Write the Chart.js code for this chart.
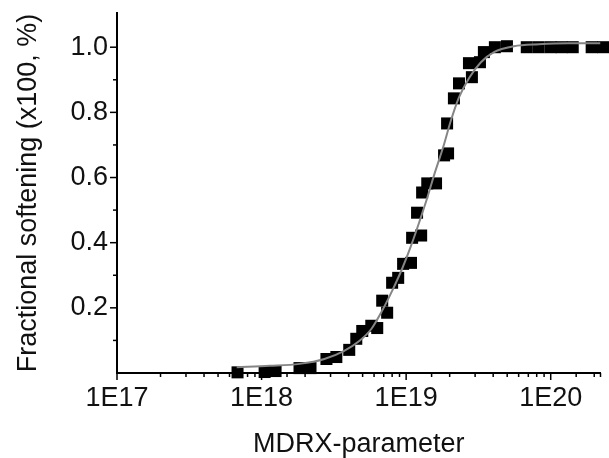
<!DOCTYPE html>
<html lang="en">
<head>
    <meta charset="UTF-8">
    <title>MDRX fractional softening</title>
    <script src="https://cdn.jsdelivr.net/npm/chart.js"></script>
    <style>
        body {
            margin: 0;
            background-color: #fff;
        }

        #chartBox {
            width: 609px;
            height: 458px;
        }
    </style>
</head>
<body>

    <div id="chartBox">
        <canvas id="myChart" width="609" height="458"></canvas>
    </div>

    <script>
        // measured points
        const mdrxParam = [6.82e17, 1.05e18, 1.25e18, 1.83e18, 2.18e18, 2.81e18, 3.29e18, 4.04e18, 4.52e18, 4.97e18,
            5.74e18, 6.31e18, 6.83e18, 7.39e18, 8.00e18, 8.81e18, 9.53e18, 1.08e19, 1.10e19, 1.27e19,
            1.19e19, 1.29e19, 1.40e19, 1.61e19, 1.83e19, 1.95e19, 1.92e19, 2.14e19, 2.32e19, 2.85e19,
            2.72e19, 3.24e19, 3.45e19, 4.11e19, 4.98e19, 6.83e19, 8.26e19, 1.0e20, 1.19e20, 1.42e20,
            1.92e20, 2.3e20];
        const softening = [0.002, 0.003, 0.006, 0.015, 0.015, 0.043, 0.049, 0.071, 0.105, 0.129,
            0.145, 0.138, 0.222, 0.185, 0.277, 0.292, 0.335, 0.338, 0.415, 0.422,
            0.492, 0.554, 0.582, 0.582, 0.668, 0.674, 0.766, 0.843, 0.889, 0.908,
            0.951, 0.954, 0.985, 1.0, 1.003, 1.0, 1.0, 1.0, 1.0, 1.0,
            1.0, 1.0];

        // fitted curve (also)
        const fitParam = [6.73e17, 1.14e18, 1.83e18, 2.72e18, 3.73e18, 4.74e18, 5.74e18, 6.82e18, 8.00e18, 9.38e18,
            1.08e19, 1.23e19, 1.40e19, 1.58e19, 1.80e19, 2.04e19, 2.32e19, 2.72e19, 3.29e19, 4.05e19,
            5.56e19, 8.26e19, 1.33e20, 2.21e20];
        const fitValue = [0.018, 0.022, 0.028, 0.043, 0.068, 0.098, 0.135, 0.191, 0.252, 0.32,
            0.39, 0.462, 0.538, 0.615, 0.692, 0.775, 0.846, 0.905, 0.954, 0.985,
            1.003, 1.009, 1.012, 1.012];

        const xMajor = [1e17, 1e18, 1e19, 1e20];
        const xLabels = ['1E17', '1E18', '1E19', '1E20'];
        const yTicks = [0, 0.1, 0.2, 0.3, 0.4, 0.5, 0.6, 0.7, 0.8, 0.9, 1.0];
        const yLabels = ['', '', '0.2', '', '0.4', '', '0.6', '', '0.8', '', '1.0'];

        const fontName = "'Liberation Sans', Arial, sans-serif";

        // tick marks drawn by hand so minor ticks can be shorter
        const tickMarks = {
            id: 'tickMarks',
            afterDraw(chart) {
                const ctx = chart.ctx;
                const xs = chart.scales.x;
                const ys = chart.scales.y;
                ctx.save();
                ctx.strokeStyle = '#000';
                ctx.lineWidth = 1.5;
                xs.ticks.forEach(t => {
                    const px = xs.getPixelForValue(t.value);
                    const major = xMajor.indexOf(t.value) >= 0;
                    ctx.beginPath();
                    ctx.moveTo(px, xs.top);
                    ctx.lineTo(px, xs.top + (major ? 7 : 4));
                    ctx.stroke();
                });
                ys.ticks.forEach((t, i) => {
                    if (t.value === 0) return;
                    const py = ys.getPixelForValue(t.value);
                    ctx.beginPath();
                    ctx.moveTo(ys.right, py);
                    ctx.lineTo(ys.right - (yLabels[i] ? 7 : 4), py);
                    ctx.stroke();
                });
                ctx.restore();
            }
        };

        function noPadding(scale) {
            scale.paddingTop = 0;
            scale.paddingBottom = 0;
            scale.paddingLeft = 0;
            scale.paddingRight = 0;
        }

        const ctx = document.getElementById('myChart').getContext('2d');

        const chart = new Chart(ctx, {
            type: 'scatter',
            data: {
                datasets: [{
                    label: 'fit',
                    data: fitParam.map((p, i) => ({ x: p, y: fitValue[i] })),
                    showLine: true,
                    borderColor: '#858585',
                    borderWidth: 2,
                    pointRadius: 0,
                    cubicInterpolationMode: 'monotone',
                    order: 0
                }, {
                    label: 'measured',
                    data: mdrxParam.map((p, i) => ({ x: p, y: softening[i] })),
                    pointStyle: 'rect',
                    pointRadius: 8.5,
                    backgroundColor: '#000',
                    borderColor: '#000',
                    borderWidth: 0,
                    clip: false,
                    order: 1
                }]
            },
            options: {
                responsive: false,
                animation: false,
                events: [],
                layout: {
                    padding: { top: 13, right: 7, left: 0, bottom: 0 }
                },
                plugins: {
                    legend: { display: false },
                    tooltip: { enabled: false }
                },
                scales: {
                    x: {
                        type: 'logarithmic',
                        min: 1e17,
                        max: 2.21e20,
                        afterFit: function (scale) {
                            scale.height = 85;
                            noPadding(scale);
                        },
                        grid: {
                            drawOnChartArea: false,
                            drawTicks: true,
                            tickLength: 7,
                            tickColor: 'transparent'
                        },
                        border: { color: '#000', width: 2 },
                        ticks: {
                            autoSkip: false,
                            maxRotation: 0,
                            padding: 2,
                            color: '#111',
                            font: { family: fontName, size: 27 },
                            callback: function (value) {
                                const i = xMajor.indexOf(value);
                                return i >= 0 ? xLabels[i] : '';
                            }
                        },
                        title: {
                            display: true,
                            text: 'MDRX-parameter',
                            color: '#111',
                            font: { family: fontName, size: 27 },
                            padding: { top: 0, bottom: -3 }
                        }
                    },
                    y: {
                        min: 0,
                        max: 1.105,
                        afterFit: function (scale) {
                            scale.width = 117;
                            noPadding(scale);
                        },
                        afterBuildTicks: function (scale) {
                            scale.ticks = yTicks.map(v => ({ value: v }));
                        },
                        grid: {
                            drawOnChartArea: false,
                            drawTicks: true,
                            tickLength: 7,
                            tickColor: 'transparent'
                        },
                        border: { color: '#000', width: 2 },
                        ticks: {
                            padding: 2,
                            color: '#111',
                            font: { family: fontName, size: 27 },
                            callback: function (value, index) {
                                return yLabels[index];
                            }
                        },
                        title: {
                            display: true,
                            text: 'Fractional softening (x100, %)',
                            color: '#111',
                            font: { family: fontName, size: 27 },
                            padding: { top: 12, bottom: 0 }
                        }
                    }
                }
            },
            plugins: [tickMarks]
        });
    </script>
</body>
</html>
